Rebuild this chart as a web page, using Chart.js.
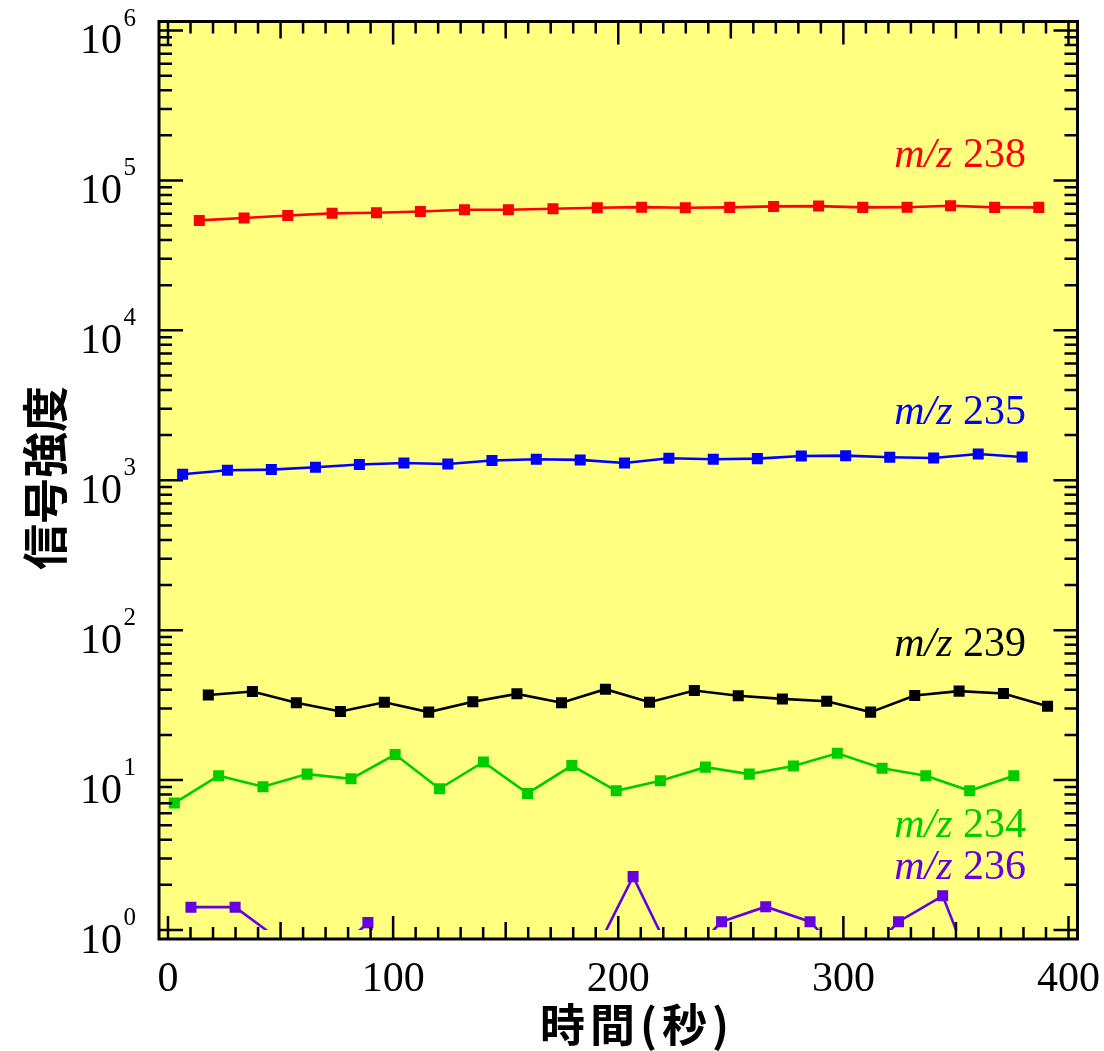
<!DOCTYPE html>
<html><head><meta charset="utf-8">
<script src="https://cdn.jsdelivr.net/npm/chart.js@4/dist/chart.umd.min.js"></script>
<style>html,body{margin:0;padding:0;background:#fff;}canvas{display:block;}</style>
</head><body>
<canvas id="c" width="1104" height="1051"></canvas>
<script>
// ---- data (time in seconds, signal intensity) ----
const timeRed   = [13.9, 33.8, 53.2, 72.9, 92.6, 112.1, 131.7, 151.2, 171.0, 190.7, 210.4, 229.8, 249.5, 269.0, 289.0, 308.6, 328.3, 347.6, 367.2, 386.8];
const mz238     = [54100, 56100, 58400, 60300, 60900, 62100, 63700, 63700, 64700, 65700, 66300, 65700, 66100, 67100, 67400, 66100, 66300, 67800, 66100, 66100];
const timeBlue  = [6.5, 26.4, 45.9, 65.5, 85.0, 104.8, 124.3, 143.9, 163.6, 183.1, 202.8, 222.5, 242.2, 261.8, 281.3, 301.0, 320.6, 340.1, 359.9, 379.4];
const mz235     = [1097, 1166, 1178, 1221, 1273, 1303, 1284, 1353, 1380, 1367, 1303, 1402, 1380, 1394, 1452, 1459, 1423, 1408, 1496, 1430];
const timeBlack = [17.9, 37.5, 57.0, 76.6, 96.1, 115.8, 135.4, 155.0, 174.8, 194.3, 213.9, 233.8, 253.3, 272.9, 292.6, 312.1, 331.7, 351.4, 371.1, 390.7];
const mz239     = [36.9, 39.0, 32.8, 28.7, 33.0, 28.4, 33.3, 37.6, 32.8, 40.4, 33.1, 39.6, 36.5, 34.8, 33.6, 28.4, 36.7, 39.2, 37.8, 31.1];
const timeGreen = [2.8, 22.5, 42.2, 61.8, 81.3, 100.9, 120.6, 140.1, 159.7, 179.4, 199.1, 218.7, 238.7, 258.2, 277.8, 297.3, 317.2, 336.6, 356.1, 375.7];
const mz234     = [7.03, 10.7, 9.03, 10.96, 10.2, 14.8, 8.75, 13.2, 8.15, 12.5, 8.48, 9.9, 12.2, 10.96, 12.4, 15.1, 12.0, 10.7, 8.48, 10.7];
const timePurple= [10.2, 29.8, 49.5, 69.1, 88.8, 108.4, 128.1, 147.7, 167.3, 187.0, 206.6, 226.3, 245.9, 265.5, 285.2, 304.8, 324.5, 344.1, 363.8];
const mz236     = [1.42, 1.42, 0.86, 0.59, 1.12, 0.3, 0.3, 0.3, 0.3, 0.59, 2.27, 0.56, 1.136, 1.43, 1.136, 0.56, 1.136, 1.69, 0.3];

const seriesNames  = ['238', '235', '239', '234', '236'];
const seriesPrefix = 'm/z';
const xTickValues  = [0, 100, 200, 300, 400];
const xTickLabels  = ['0', '100', '200', '300', '400'];
const yTickExponents = [0, 1, 2, 3, 4, 5, 6];
const xAxisTitle = '時間(秒)';
const yAxisTitle = '信号強度';

// ---- styles ----
const colors = ['#ff0000', '#0000ff', '#000000', '#00cc00', '#6600e0'];
const labelBaselines = [167, 424, 656, 837, 879];
const SERIF = '"Liberation Serif", "Times New Roman", serif';
const CJK = '"Noto Sans CJK JP", "Noto Sans CJK SC", sans-serif';

function pts(xs, ys) { return xs.map((x, i) => ({ x: x, y: ys[i] })); }
const seriesData = [pts(timeRed, mz238), pts(timeBlue, mz235), pts(timeBlack, mz239), pts(timeGreen, mz234), pts(timePurple, mz236)];

const PAD = 9;
const deco = {
  id: 'deco',
  beforeDatasetsDraw(chart) {
    const a = chart.chartArea, ctx = chart.ctx;
    ctx.save();
    ctx.fillStyle = '#ffff80';
    ctx.fillRect(a.left - PAD, a.top - PAD, a.right - a.left + 2 * PAD, a.bottom - a.top + 2 * PAD);
    ctx.restore();
  },
  afterDatasetsDraw(chart) {
    const a = chart.chartArea, ctx = chart.ctx;
    const xs = chart.scales.x, ys = chart.scales.y;
    const L = a.left - PAD, R = a.right + PAD, T = a.top - PAD, B = a.bottom + PAD;
    ctx.save();
    ctx.strokeStyle = '#000';
    ctx.lineWidth = 2.5;
    ctx.beginPath();
    for (let v = 0; v <= 400; v += 10) {
      const px = xs.getPixelForValue(v);
      const len = (v % 100 === 0) ? 23 : (v % 50 === 0 ? 17 : 12);
      ctx.moveTo(px, B); ctx.lineTo(px, B - len);
      ctx.moveTo(px, T); ctx.lineTo(px, T + len);
    }
    for (let e = 0; e <= 6; e++) {
      for (let m = 1; m <= 9; m++) {
        const val = m * Math.pow(10, e);
        if (val > 1e6) break;
        const py = ys.getPixelForValue(val);
        const len = m === 1 ? 24 : 13;
        ctx.moveTo(L, py); ctx.lineTo(L + len, py);
        ctx.moveTo(R, py); ctx.lineTo(R - len, py);
      }
    }
    ctx.stroke();
    ctx.lineWidth = 3;
    ctx.strokeRect(L, T, R - L, B - T);

    ctx.fillStyle = '#000';
    ctx.font = '42px ' + SERIF;
    ctx.textAlign = 'center';
    ctx.textBaseline = 'alphabetic';
    xTickValues.forEach((v, i) => ctx.fillText(xTickLabels[i], xs.getPixelForValue(v), 991));
    yTickExponents.forEach(e => {
      const py = ys.getPixelForValue(Math.pow(10, e));
      ctx.font = '42px ' + SERIF;
      ctx.textAlign = 'right';
      ctx.fillText('10', 122, py + 22.5);
      ctx.font = '25px ' + SERIF;
      ctx.textAlign = 'left';
      ctx.fillText(String(e), 123.5, py - 5);
    });

    seriesNames.forEach((n, i) => {
      ctx.fillStyle = colors[i];
      ctx.textAlign = 'right';
      ctx.font = '42px ' + SERIF;
      const tail = ' ' + n;
      const w = ctx.measureText(tail).width;
      ctx.fillText(tail, 1026, labelBaselines[i]);
      ctx.font = 'italic 42px ' + SERIF;
      ctx.fillText(seriesPrefix, 1026 - w, labelBaselines[i]);
    });

    ctx.fillStyle = '#000';
    ctx.font = 'bold 45px ' + CJK;
    ctx.textAlign = 'center';
    ctx.textBaseline = 'middle';
    try { ctx.letterSpacing = '5px'; } catch (err) {}
    ctx.fillText(xAxisTitle, 637, 1025);
    try { ctx.letterSpacing = '0px'; } catch (err) {}
    ctx.translate(45, 478);
    ctx.rotate(-Math.PI / 2);
    ctx.font = 'bold 46px ' + CJK;
    ctx.fillText(yAxisTitle, 0, 0);
    ctx.restore();
  }
};

new Chart(document.getElementById('c'), {
  type: 'line',
  data: {
    datasets: seriesData.map((d, i) => ({
      label: seriesPrefix + ' ' + seriesNames[i],
      data: d,
      borderColor: colors[i],
      backgroundColor: colors[i],
      borderWidth: 2.6,
      pointStyle: 'rect',
      pointRadius: 7.8,
      pointHoverRadius: 7.8,
      pointBorderWidth: 0,
      pointBackgroundColor: colors[i],
      tension: 0,
      fill: false,
      clip: { left: 12, right: 12, top: 12, bottom: 0 }
    }))
  },
  options: {
    responsive: false,
    animation: false,
    devicePixelRatio: 1,
    layout: { padding: { left: 168, right: 35.5, top: 30.5, bottom: 121 } },
    plugins: { legend: { display: false }, tooltip: { enabled: false } },
    scales: {
      x: { type: 'linear', min: 0, max: 400, display: false },
      y: { type: 'logarithmic', min: 1, max: 1e6, display: false }
    }
  },
  plugins: [deco]
});
</script>
</body></html>
